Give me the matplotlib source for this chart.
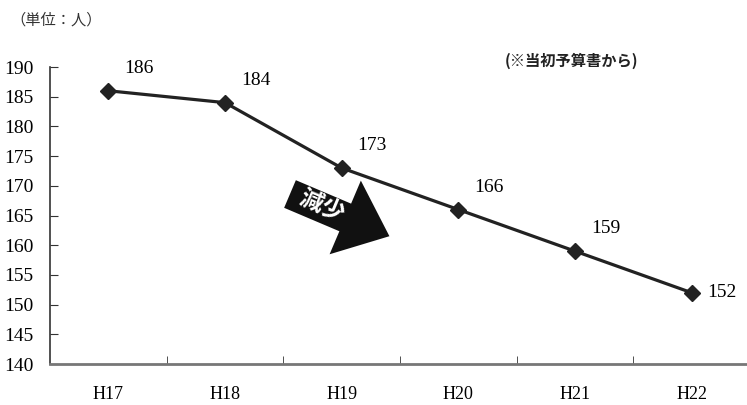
import numpy as np
import matplotlib.pyplot as plt
from matplotlib.patches import Polygon

# data
years = ['H17', 'H18', 'H19', 'H20', 'H21', 'H22']
staff = [186, 184, 173, 166, 159, 152]

W, H = 747, 405
fig = plt.figure(figsize=(W / 100, H / 100), dpi=100)
ax = fig.add_axes([50 / W, 1 - 364 / H, 700 / W, 297 / H])

x = np.arange(len(years))
ax.plot(x, staff, color='#222222', linewidth=2.3, marker='D', markersize=8.5,
        markerfacecolor='#222222', markeredgecolor='#222222', zorder=3)

# labels next to the points
for i, v in enumerate(staff):
    if i == len(staff) - 1:
        ax.annotate(str(v), (i, v), xytext=(22, 0), textcoords='offset points',
                    ha='center', va='center', fontsize=14, family='Liberation Serif')
    else:
        ax.annotate(str(v), (i, v), xytext=(22, 16), textcoords='offset points',
                    ha='center', va='center', fontsize=14, family='Liberation Serif')

ax.set_xlim(-0.5, len(years) - 0.5)
ax.set_ylim(140, 190)
ax.set_yticks(range(140, 191, 5))
ax.set_yticklabels([str(t) for t in range(140, 191, 5)], family='Liberation Serif', fontsize=14)
ax.set_xticks(x)
ax.set_xticklabels(years, family='Liberation Serif', fontsize=13)
ax.tick_params(axis='x', length=0, pad=16)
ax.set_xticks(np.arange(0.5, len(years) - 0.5, 1), minor=True)
ax.tick_params(axis='x', which='minor', direction='in', length=6, color='#333333')
ax.tick_params(axis='y', direction='in', length=6, pad=12, color='#333333')

for s in ['top', 'right']:
    ax.spines[s].set_visible(False)
ax.spines['left'].set_color('#333333')
ax.spines['left'].set_linewidth(1.2)
ax.spines['bottom'].set_color('#777777')
ax.spines['bottom'].set_linewidth(2)

# "decrease" arrow, drawn in pixel units then turned into figure fraction
ang = np.deg2rad(-23)
body_w, head_w, body_len, head_len = 30, 80, 60, 48
shape = np.array([
    [0, body_w / 2], [body_len, body_w / 2], [body_len, head_w / 2],
    [body_len + head_len, 0],
    [body_len, -head_w / 2], [body_len, -body_w / 2], [0, -body_w / 2],
])
rot = np.array([[np.cos(ang), -np.sin(ang)], [np.sin(ang), np.cos(ang)]])
pts = shape @ rot.T + np.array([290, H - 194])
pts = pts / np.array([W, H])
fig.patches.append(Polygon(pts, closed=True, facecolor='#111111', edgecolor='none',
                           transform=fig.transFigure))
fig.text(322 / W, 1 - 207 / H, '減少', rotation=-23, ha='center', va='center',
         color='white', fontsize=17, fontweight='bold', family='Noto Sans CJK JP')

fig.text(10 / W, 1 - 20 / H, '（単位：人）', ha='left', va='center', fontsize=11,
         family=['Noto Sans CJK JP', 'DejaVu Sans'], color='#333333')
fig.text(505 / W, 1 - 61 / H, '(※当初予算書から)', ha='left', va='center', fontsize=11,
         family=['Noto Sans CJK JP', 'DejaVu Sans'], fontweight='bold', color='#222222')

fig.savefig('out.png', dpi=100)
